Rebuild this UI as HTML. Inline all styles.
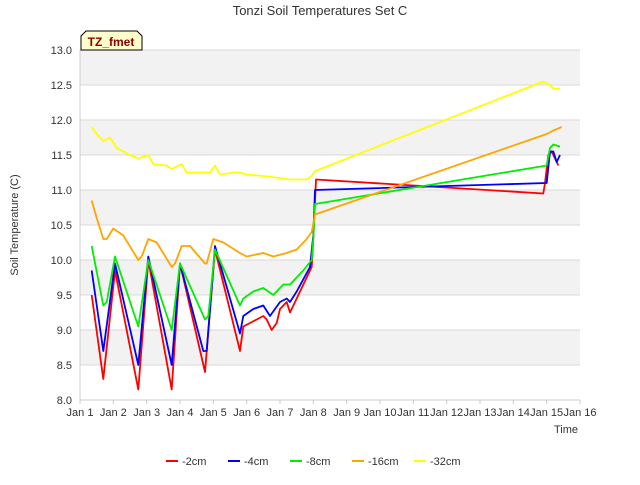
<!DOCTYPE html>
<html><head><meta charset="utf-8"><style>
body{margin:0;background:#fff;font-family:"Liberation Sans",sans-serif}
svg text{font-family:"Liberation Sans",sans-serif}
</style></head><body>
<svg id="chart" width="640" height="480" xmlns="http://www.w3.org/2000/svg">
<rect width="640" height="480" fill="#fff"/>
<text x="320" y="15" text-anchor="middle" font-size="13" fill="#333">Tonzi Soil Temperatures Set C</text>
<g id="grid"></g>
<g id="axes"></g>
<g id="series"></g>
<text x="18" y="225" text-anchor="middle" font-size="11" fill="#333" transform="rotate(-90 18 225)">Soil Temperature (C)</text>
<text x="566" y="433" text-anchor="middle" font-size="11" fill="#333">Time</text>
<g>
<path d="M81,50 L81,36 L86,31 L137,31 L142,36 L142,50 Z" fill="#ffffcc" stroke="#000" stroke-width="1"/>
<text x="111" y="46" text-anchor="middle" font-size="12" font-weight="bold" fill="#8b0000">TZ_fmet</text>
</g>
<g id="legend"></g>
</svg>
<script>
const days=[0,1,2,3,4,5,6,7,8,9,10,11,12,13,14,15];
const xTickLabels=["Jan 1","Jan 2","Jan 3","Jan 4","Jan 5","Jan 6","Jan 7","Jan 8","Jan 9","Jan 10","Jan 11","Jan 12","Jan 13","Jan 14","Jan 15","Jan 16"];
const yTicks=[8.0,8.5,9.0,9.5,10.0,10.5,11.0,11.5,12.0,12.5,13.0];
const seriesNames=["-2cm","-4cm","-8cm","-16cm","-32cm"];
const seriesColors=["#ff0000","#0000ff","#00ee00","#ffa500","#ffff00"];
const t2=[0.35,0.7,1.05,1.75,2.05,2.75,3.0,3.75,4.05,4.8,4.9,5.3,5.5,5.6,5.75,5.9,6.0,6.2,6.3,6.5,6.8,6.95,7.0,7.08,13.9,13.95,14.05,14.15,14.3,14.35];
const v2=[9.5,8.3,9.85,8.15,10.0,8.15,9.95,8.4,10.15,8.7,9.05,9.15,9.2,9.15,9.0,9.1,9.3,9.4,9.25,9.45,9.75,9.9,10.3,11.15,10.95,11.1,11.5,11.55,11.4,11.35];
const t4=[0.35,0.7,1.05,1.75,2.05,2.75,3.0,3.7,3.8,4.05,4.8,4.9,5.2,5.5,5.7,6.0,6.2,6.3,6.5,6.9,7.0,7.05,14.0,14.1,14.2,14.3,14.4];
const v4=[9.85,8.7,9.95,8.5,10.05,8.5,9.95,8.7,8.7,10.2,8.95,9.2,9.3,9.35,9.2,9.4,9.45,9.4,9.55,9.9,10.35,11.0,11.1,11.55,11.55,11.4,11.5];
const t8=[0.35,0.7,0.8,1.05,1.75,2.05,2.75,3.0,3.75,3.85,4.05,4.8,4.9,5.2,5.5,5.8,6.1,6.3,6.7,6.95,7.0,7.05,14.0,14.1,14.2,14.4];
const v8=[10.2,9.35,9.4,10.05,9.05,10.0,9.0,9.95,9.15,9.2,10.15,9.35,9.45,9.55,9.6,9.5,9.65,9.65,9.85,10.0,10.3,10.8,11.35,11.6,11.65,11.62];
const t16=[0.35,0.5,0.7,0.8,1.0,1.3,1.75,1.85,2.05,2.3,2.75,2.85,3.05,3.3,3.75,3.8,4.0,4.3,4.8,5.0,5.5,5.8,6.2,6.5,6.8,6.95,7.05,14.0,14.2,14.45];
const v16=[10.85,10.6,10.3,10.3,10.45,10.35,10.0,10.05,10.3,10.25,9.9,9.95,10.2,10.2,9.95,9.95,10.3,10.25,10.1,10.05,10.1,10.05,10.1,10.15,10.3,10.4,10.65,11.8,11.85,11.9];
const t32=[0.35,0.5,0.7,0.9,1.1,1.5,1.75,2.05,2.2,2.6,2.75,3.05,3.2,3.7,3.9,4.05,4.2,4.6,4.8,5.0,5.5,6.0,6.3,6.8,6.95,7.05,13.9,14.1,14.2,14.4];
const v32=[11.9,11.8,11.7,11.75,11.6,11.5,11.45,11.5,11.37,11.35,11.3,11.37,11.25,11.25,11.25,11.35,11.22,11.25,11.25,11.22,11.2,11.17,11.15,11.15,11.2,11.27,12.55,12.5,12.45,12.45];
const seriesT=[t2,t4,t8,t16,t32];
const seriesV=[v2,v4,v8,v16,v32];

const NS="http://www.w3.org/2000/svg";
const X0=80,X1=580,Y0=400,Y1=50;
function xs(d){return X0+(d-0)/(15)*(X1-X0);}
function ys(v){return Y0-(v-8)/(5)*(Y0-Y1);}
function mk(tag,attrs,parent){const e=document.createElementNS(NS,tag);for(const k in attrs)e.setAttribute(k,attrs[k]);parent.appendChild(e);return e;}
const grid=document.getElementById('grid'),axes=document.getElementById('axes'),ser=document.getElementById('series'),leg=document.getElementById('legend');
for(let i=0;i<yTicks.length-1;i++){
  if(i%2===1){const b=mk('rect',{x:X0,y:ys(yTicks[i+1]),width:X1-X0,height:ys(yTicks[i])-ys(yTicks[i+1]),fill:'#f2f2f2'},grid);
  
  }
}
yTicks.forEach(v=>{
  const l=mk('line',{x1:X0,x2:X1,y1:ys(v),y2:ys(v),stroke:'#d9d9d9','stroke-width':1},grid);
  
  
  const t=mk('text',{x:X0-8,y:ys(v)+4,'text-anchor':'end','font-size':11,fill:'#333'},axes);
  t.textContent=v.toFixed(1);
  
  
});
const ax=mk('line',{x1:X0,x2:X0,y1:Y1,y2:Y0,stroke:'#ccc'},axes);


const bx=mk('line',{x1:X0,x2:X1,y1:Y0,y2:Y0,stroke:'#ccc'},axes);


days.forEach((d,i)=>{
  const tk=mk('line',{x1:xs(d),x2:xs(d),y1:Y0,y2:Y0+4,stroke:'#ccc'},axes);
  
  
  const t=mk('text',{x:xs(d),y:416,'text-anchor':'middle','font-size':11,fill:'#333'},axes);
  t.textContent=xTickLabels[i];
  
  
});
seriesNames.forEach((n,s)=>{
  const pts=seriesT[s].map((d,i)=>xs(d).toFixed(1)+','+ys(seriesV[s][i]).toFixed(1)).join(' ');
  const p=mk('polyline',{points:pts,fill:'none',stroke:seriesColors[s],'stroke-width':1.8,'stroke-linejoin':'round'},ser);
  
  
  const lx=166+s*62;
  const g=mk('g',{},leg);
  
  
  mk('line',{x1:lx,x2:lx+12,y1:461,y2:461,stroke:seriesColors[s],'stroke-width':2},g);
  const t=mk('text',{x:lx+16,y:465,'font-size':11,fill:'#333'},g);
  t.textContent=n;
});
</script>
</body></html>
